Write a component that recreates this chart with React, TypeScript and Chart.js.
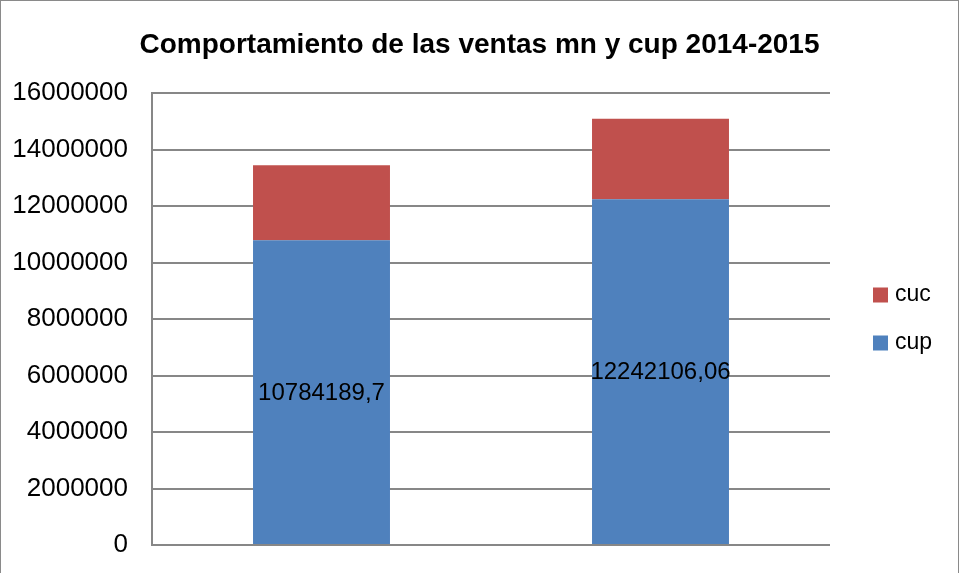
import React, { useEffect, useRef } from "react";
import { Chart, registerables } from "chart.js";

Chart.register(...registerables);

const categories = ["2014", "2015"];
const cupValues = [10784189.7, 12242106.06];
const cucValues = [2660000, 2850000];
const yTicks = { min: 0, max: 16000000, step: 2000000 };
const titleText = "Comportamiento de las ventas mn y cup 2014-2015";

const BLUE = "#4F81BD";
const RED = "#C0504D";
const GRID = "#878787";
const FONT = "'Liberation Sans', Arial, sans-serif";

const labelPlugin = {
  id: "cupLabels",
  afterDatasetsDraw(chart: any) {
    const ctx = chart.ctx;
    const meta = chart.getDatasetMeta(0);
    ctx.save();
    ctx.fillStyle = "#000";
    ctx.font = `24px ${FONT}`;
    ctx.textAlign = "center";
    ctx.textBaseline = "middle";
    meta.data.forEach((bar: any, i: number) => {
      const v = chart.data.datasets[0].data[i];
      const txt = String(v).replace(".", ",");
      ctx.fillText(txt, bar.x, (bar.y + bar.base) / 2 + 1);
    });
    ctx.restore();
  },
};

const titlePlugin = {
  id: "centeredTitle",
  afterDraw(chart: any) {
    const ctx = chart.ctx;
    ctx.save();
    ctx.fillStyle = "#000";
    ctx.font = `bold 28px ${FONT}`;
    ctx.textAlign = "center";
    ctx.textBaseline = "middle";
    ctx.fillText(titleText, chart.width / 2, 44);
    ctx.restore();
  },
};

const legendPlugin = {
  id: "customLegend",
  afterDraw(chart: any) {
    const ctx = chart.ctx;
    const items = [
      { label: chart.data.datasets[1].label, color: chart.data.datasets[1].backgroundColor },
      { label: chart.data.datasets[0].label, color: chart.data.datasets[0].backgroundColor },
    ];
    const area = chart.chartArea;
    const boxX = area.right + 43;
    const midY = (area.top + area.bottom) / 2;
    const gap = 48;
    const startY = midY - gap / 2;
    ctx.save();
    ctx.font = `23px ${FONT}`;
    ctx.textBaseline = "middle";
    ctx.textAlign = "left";
    items.forEach((it, i) => {
      const cy = startY + i * gap;
      ctx.fillStyle = it.color;
      ctx.fillRect(boxX, cy - 7.5, 15, 15);
      ctx.fillStyle = "#000";
      ctx.fillText(it.label, boxX + 22, cy);
    });
    ctx.restore();
  },
};

export default function App() {
  const ref = useRef<HTMLCanvasElement>(null);
  useEffect(() => {
    if (!ref.current) return;
    const chart = new Chart(ref.current, {
      type: "bar",
      data: {
        labels: categories,
        datasets: [
          { label: "cup", data: cupValues, backgroundColor: BLUE, barPercentage: 0.404, categoryPercentage: 1 },
          { label: "cuc", data: cucValues, backgroundColor: RED, barPercentage: 0.404, categoryPercentage: 1 },
        ],
      },
      options: {
        responsive: false,
        animation: false,
        layout: { padding: { left: 10, right: 128, bottom: 28, top: 92 } },
        plugins: {
          legend: { display: false },
          tooltip: { enabled: false },
          title: { display: false },
        },
        scales: {
          x: {
            stacked: true,
            ticks: { display: false },
            grid: { display: false, drawTicks: false },
            border: { display: false },
            afterFit(scale: any) { scale.height = 0; },
          },
          y: {
            stacked: true,
            min: yTicks.min,
            max: yTicks.max,
            ticks: {
              stepSize: yTicks.step,
              color: "#000",
              font: { family: FONT, size: 26 },
              padding: 3,
              callback: (v: any) => String(v),
            },
            grid: { color: GRID, lineWidth: 2, drawTicks: true, tickLength: 21, tickColor: "rgba(0,0,0,0)" },
            border: { display: true, color: GRID, width: 2 },
            afterFit(scale: any) { scale.width = 141; },
          },
        },
      },
      plugins: [labelPlugin, titlePlugin, legendPlugin],
    });
    return () => chart.destroy();
  }, []);
  return (
    <div
      style={{
        position: "absolute",
        left: 0,
        top: 0,
        width: 959,
        height: 573,
        boxSizing: "border-box",
        borderLeft: "1px solid #8a8a8a",
        borderTop: "1px solid #8a8a8a",
        borderRight: "1px solid #8a8a8a",
        background: "#fff",
      }}
    >
      <canvas ref={ref} width={957} height={572} style={{ display: "block" }} />
    </div>
  );
}
